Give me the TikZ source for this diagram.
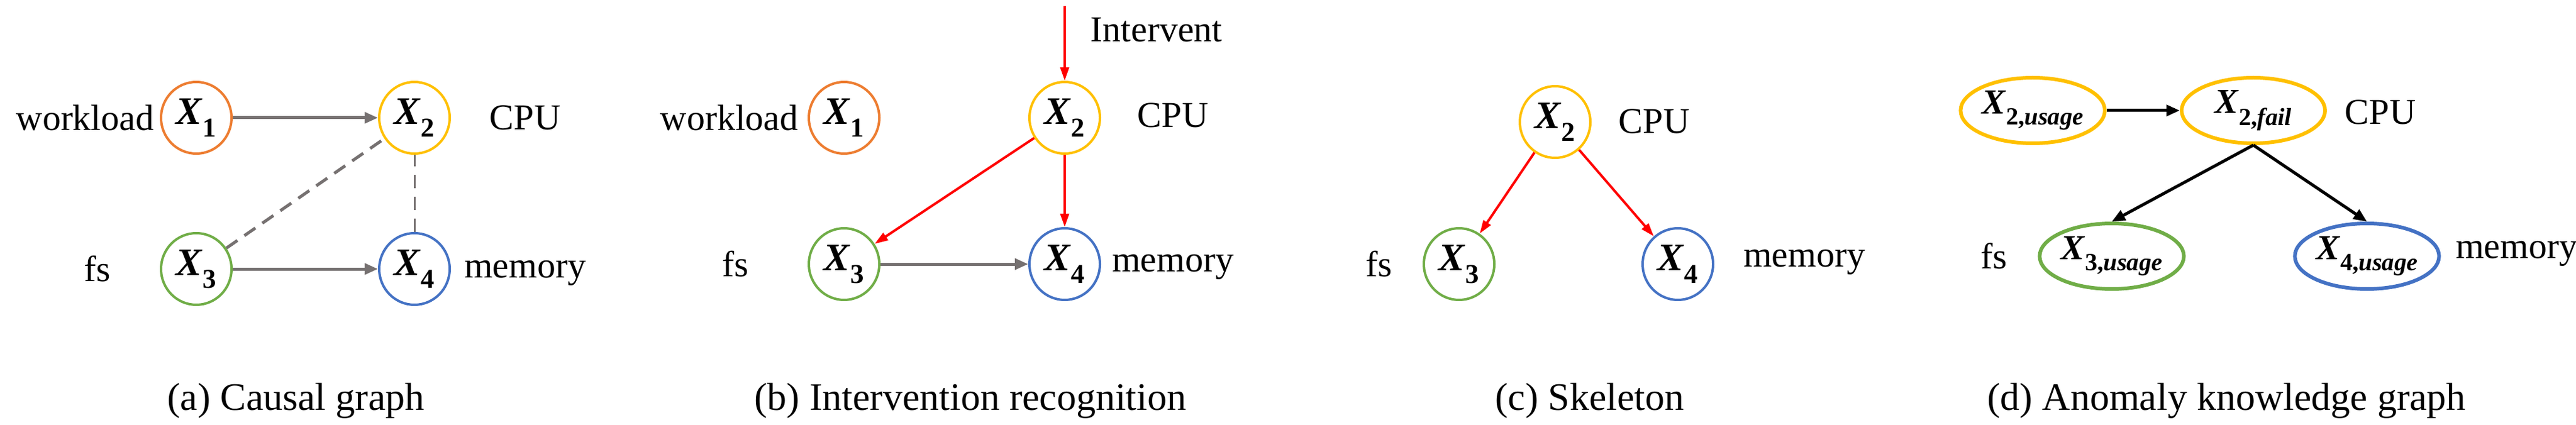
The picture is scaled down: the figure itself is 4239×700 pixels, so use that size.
\documentclass[tikz,border=0pt]{standalone}
\usepackage{fontspec}
\setmainfont{Liberation Serif}
\newfontfamily\tms{Liberation Serif}
\usetikzlibrary{arrows.meta,shapes.geometric}
\definecolor{cor}{HTML}{ED7D31}
\definecolor{cye}{HTML}{FFC000}
\definecolor{cgr}{HTML}{70AD47}
\definecolor{cbl}{HTML}{4472C4}
\definecolor{cgy}{HTML}{767171}
\begin{document}
\begin{tikzpicture}[x=1pt,y=-1pt,
  v/.style={ellipse,draw,line width=4pt,minimum width=116pt,minimum height=118pt,inner sep=0pt,font=\tms\fontsize{64}{70}\selectfont},
  w/.style={ellipse,draw,line width=6pt,minimum width=236pt,minimum height=108pt,inner sep=0pt,font=\tms\fontsize{58}{64}\selectfont},
  lab/.style={font=\tms\fontsize{60}{66}\selectfont},
  captxt/.style={font=\tms\fontsize{64}{70}\selectfont},
  ga/.style={draw=cgy,line width=5pt,-{Triangle[length=22pt,width=18pt]}},
  ra/.style={draw=red,line width=4pt,-{Triangle[length=22pt,width=14pt]}},
  ba/.style={draw=black,line width=5pt,-{Triangle[length=22pt,width=18pt]}},
  gd/.style={draw=cgy,line width=5pt,dash pattern=on 22pt off 14pt},
  gd2/.style={draw=cgy,line width=3pt,dash pattern=on 22pt off 14pt}]
\useasboundingbox (0,0) rectangle (4239,700);
\newcommand{\XX}[1]{\textbf{\textit{X}}\textsubscript{\textbf{#1}}}
\newcommand{\XU}[2]{\textbf{\textit{X}}\textsubscript{\textbf{#1,\textit{#2}}}}
% (a)
\node[v,draw=cor] (a1) at (323,194) {\XX{1}};
\node[v,draw=cye] (a2) at (682,194) {\XX{2}};
\node[v,draw=cgr] (a3) at (323,443) {\XX{3}};
\node[v,draw=cbl] (a4) at (682,443) {\XX{4}};
\node[lab] (la1) at (140,194) {workload};
\node[lab] (la2) at (864,194) {CPU};
\node[lab] (la3) at (160,443) {fs};
\node[lab] (la4) at (864,450) {memory};
\draw[ga] (a1) -- (a2);
\draw[ga] (a3) -- (a4);
\draw[gd] (a3) -- (a2);
\draw[gd2] (a4) -- (a2);
\node[captxt] (ca) at (487,660) {(a) Causal graph};
% (b)
\node[v,draw=cor] (b1) at (1389,194) {\XX{1}};
\node[v,draw=cye] (b2) at (1752,194) {\XX{2}};
\node[v,draw=cgr] (b3) at (1389,435) {\XX{3}};
\node[v,draw=cbl] (b4) at (1752,435) {\XX{4}};
\node[lab] (lb1) at (1200,194) {workload};
\node[lab] (lb2) at (1930,190) {CPU};
\node[lab] (lb3) at (1210,435) {fs};
\node[lab] (lb4) at (1930,440) {memory};
\node[lab] (lbi) at (1903,49) {Intervent};
\coordinate (bt) at (1752,10);
\draw[ra] (bt) -- (b2);
\draw[ra] (b2) -- (b3);
\draw[ra] (b2) -- (b4);
\draw[ga] (b3) -- (b4);
\node[captxt] (cb) at (1597,660) {(b) Intervention recognition};
% (c)
\node[v,draw=cye] (c2) at (2559,201) {\XX{2}};
\node[v,draw=cgr] (c3) at (2401,435) {\XX{3}};
\node[v,draw=cbl] (c4) at (2761,435) {\XX{4}};
\node[lab] (lc2) at (2722,200) {CPU};
\node[lab] (lc3) at (2269,435) {fs};
\node[lab] (lc4) at (2969,432) {memory};
\draw[ra] (c2) -- (c3);
\draw[ra] (c2) -- (c4);
\node[captxt] (cc) at (2616,660) {(c) Skeleton};
% (d)
\node[w,draw=cye] (d1) at (3345,182) {\XU{2}{usage}};
\node[w,draw=cye] (d2) at (3708,182) {\XU{2}{fail}};
\node[w,draw=cgr] (d3) at (3475,422) {\XU{3}{usage}};
\node[w,draw=cbl] (d4) at (3895,422) {\XU{4}{usage}};
\node[lab] (ld2) at (3917,185) {CPU};
\node[lab] (ld3) at (3281,422) {fs};
\node[lab] (ld4) at (4141,418) {memory};
\draw[ba] (d1) -- (d2);
\draw[ba] (d2.south) -- (d3.north);
\draw[ba] (d2.south) -- (d4.north);
\node[captxt] (cd) at (3664,660) {(d) Anomaly knowledge graph};
\end{tikzpicture}
\end{document}
